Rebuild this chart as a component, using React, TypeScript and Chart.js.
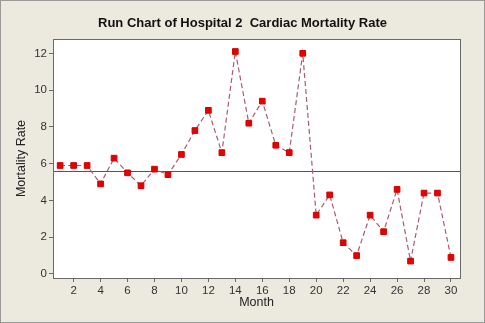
import React, { useEffect, useRef } from "react";
import { Chart, registerables } from "chart.js";

Chart.register(...registerables);

const months = [1, 2, 3, 4, 5, 6, 7, 8, 9, 10, 11, 12, 13, 14, 15, 16, 17, 18, 19, 20, 21, 22, 23, 24, 25, 26, 27, 28, 29, 30];
const mortality = [5.9, 5.9, 5.9, 4.9, 6.3, 5.5, 4.8, 5.7, 5.4, 6.5, 7.8, 8.9, 6.6, 12.1, 8.2, 9.4, 7.0, 6.6, 12.0, 3.2, 4.3, 1.7, 1.0, 3.2, 2.3, 4.6, 0.7, 4.4, 4.4, 0.9];
const xTickValues = [2, 4, 6, 8, 10, 12, 14, 16, 18, 20, 22, 24, 26, 28, 30];
const yTickValues = [0, 2, 4, 6, 8, 10, 12];

const titleText = "Run Chart of Hospital 2  Cardiac Mortality Rate";
const xTitle = "Month";
const yTitle = "Mortality Rate";

function median(values: number[]): number {
  const s = [...values].sort((a, b) => a - b);
  const m = Math.floor(s.length / 2);
  return s.length % 2 ? s[m] : (s[m - 1] + s[m]) / 2;
}

const FONT = "'Liberation Sans', Arial, sans-serif";

export default function App() {
  const ref = useRef<HTMLCanvasElement | null>(null);
  useEffect(() => {
    if (!ref.current) return;
    const med = median(mortality);
    const framePlugin = {
      id: "frame",
      beforeDraw(chart: any) {
        const { ctx, chartArea, width, height } = chart;
        ctx.save();
        ctx.fillStyle = "#ECEADF";
        ctx.fillRect(0, 0, width, height);
        ctx.strokeStyle = "#9a9a96";
        ctx.lineWidth = 1;
        ctx.strokeRect(0.5, 0.5, width - 1, height - 1);
        ctx.fillStyle = "#ffffff";
        ctx.fillRect(chartArea.left, chartArea.top, chartArea.right - chartArea.left, chartArea.bottom - chartArea.top);
        ctx.restore();
      },
      beforeDatasetsDraw(chart: any) {
        const { ctx, chartArea, scales } = chart;
        const y = Math.round(scales.y.getPixelForValue(med)) + 0.5;
        ctx.save();
        ctx.strokeStyle = "#555555";
        ctx.lineWidth = 1;
        ctx.beginPath();
        ctx.moveTo(chartArea.left, y);
        ctx.lineTo(chartArea.right, y);
        ctx.stroke();
        ctx.restore();
      },
      afterDraw(chart: any) {
        const { ctx, chartArea } = chart;
        ctx.save();
        ctx.strokeStyle = "#6a6a6a";
        ctx.lineWidth = 1;
        ctx.strokeRect(
          Math.round(chartArea.left) + 0.5,
          Math.round(chartArea.top) + 0.5,
          Math.round(chartArea.right - chartArea.left),
          Math.round(chartArea.bottom - chartArea.top)
        );
        ctx.restore();
      },
    };

    const chart = new Chart(ref.current, {
      type: "line",
      data: {
        datasets: [
          {
            data: months.map((m, i) => ({ x: m, y: mortality[i] })),
            borderColor: "#a85c70",
            borderWidth: 1.2,
            borderDash: [5, 3],
            pointStyle: "rect",
            pointRadius: 4,
            pointBackgroundColor: "#e60000",
            pointBorderColor: "#d00000",
            pointBorderWidth: 1,
            tension: 0,
            fill: false,
          },
        ],
      },
      options: {
        responsive: false,
        animation: false,
        layout: { padding: { left: 0, right: 0, top: 0, bottom: 0 } },
        plugins: {
          legend: { display: false },
          tooltip: { enabled: false },
          title: {
            display: true,
            text: titleText,
            color: "#111111",
            font: { family: FONT, size: 13, weight: "bold" },
            padding: { top: 15.2, bottom: 8.2 },
          },
        },
        scales: {
          x: {
            type: "linear",
            position: "bottom",
            min: 0.47,
            max: 30.67,
            afterBuildTicks: (s: any) => {
              s.ticks = xTickValues.map((v) => ({ value: v }));
            },
            afterFit: (s: any) => {
              s.height = 45;
            },
            ticks: {
              autoSkip: false,
              maxRotation: 0,
              padding: 2,
              color: "#333333",
              font: { family: FONT, size: 11.5 },
            },
            grid: {
              drawOnChartArea: false,
              drawTicks: true,
              tickLength: 4,
              color: "#6a6a6a",
            },
            border: { display: true, color: "#6a6a6a" },
            title: {
              display: true,
              text: xTitle,
              color: "#222222",
              font: { family: FONT, size: 12.5 },
              padding: { top: 0, bottom: 12.5 },
            },
          },
          y: {
            type: "linear",
            position: "left",
            min: -0.22,
            max: 12.78,
            afterBuildTicks: (s: any) => {
              s.ticks = yTickValues.map((v) => ({ value: v }));
            },
            afterFit: (s: any) => {
              s.width = 53;
            },
            ticks: {
              padding: 2,
              color: "#333333",
              font: { family: FONT, size: 11.5 },
            },
            grid: {
              drawOnChartArea: false,
              drawTicks: true,
              tickLength: 4,
              color: "#6a6a6a",
            },
            border: { display: true, color: "#6a6a6a" },
            title: {
              display: true,
              text: yTitle,
              color: "#222222",
              font: { family: FONT, size: 12.5 },
              padding: { top: 14, bottom: 0 },
            },
          },
          yRight: {
            type: "linear",
            position: "right",
            display: true,
            afterFit: (s: any) => {
              s.width = 25;
            },
            ticks: { display: false },
            grid: { display: false, drawTicks: false },
            border: { display: false },
          },
        },
      },
      plugins: [framePlugin],
    } as any);
    return () => chart.destroy();
  }, []);

  return (
    <div style={{ position: "absolute", left: 0, top: 0, width: 485, height: 323 }}>
      <canvas ref={ref} width={485} height={323} style={{ display: "block" }} />
    </div>
  );
}
